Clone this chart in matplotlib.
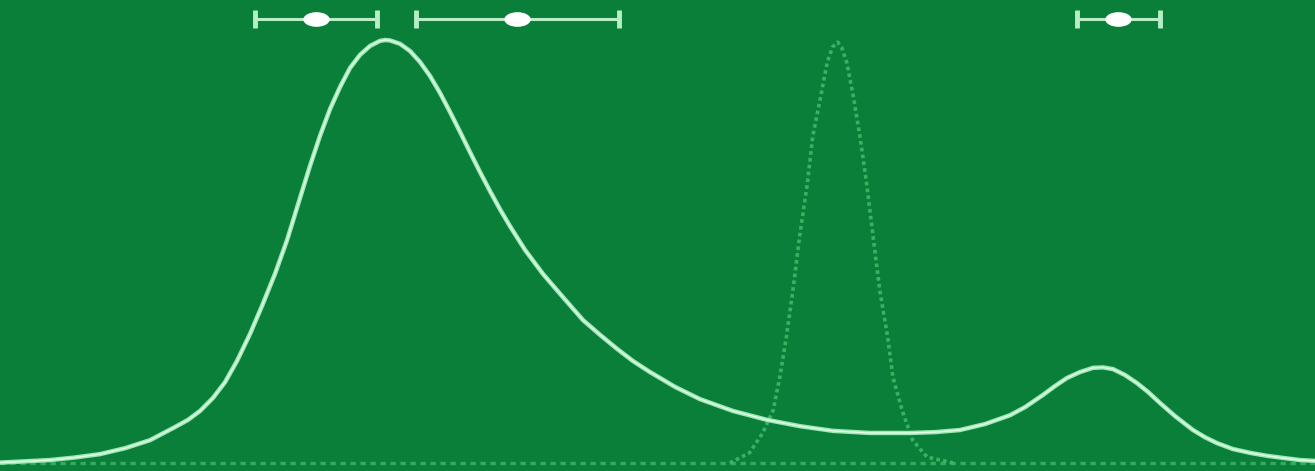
import numpy as np
import matplotlib
matplotlib.use("Agg")
import matplotlib.pyplot as plt
from matplotlib.path import Path
from matplotlib.transforms import Affine2D

# main density curve (bimodal)
dens_x = [0.000, 0.190, 0.380, 0.570, 0.760, 0.951, 1.141, 1.331, 1.430, 1.521,
          1.620, 1.711, 1.802, 1.901, 1.992, 2.091, 2.183, 2.281, 2.357, 2.433,
          2.510, 2.586, 2.662, 2.738, 2.814, 2.890, 2.928, 2.966, 3.042, 3.118,
          3.194, 3.270, 3.346, 3.422, 3.498, 3.574, 3.650, 3.726, 3.802, 3.878,
          3.992, 4.129, 4.259, 4.433, 4.563, 4.692, 4.814, 4.943, 5.133, 5.323,
          5.574, 5.833, 6.084, 6.335, 6.616, 6.920, 7.110, 7.300, 7.490, 7.681,
          7.795, 7.932, 8.023, 8.114, 8.213, 8.312, 8.388, 8.464, 8.555, 8.646,
          8.730, 8.821, 8.935, 9.072, 9.163, 9.255, 9.376, 9.506, 9.635, 9.757,
          9.886, 10.000]
dens_y = [0.001, 0.004, 0.007, 0.013, 0.021, 0.035, 0.054, 0.085, 0.102, 0.123,
          0.154, 0.191, 0.241, 0.305, 0.371, 0.447, 0.527, 0.626, 0.702, 0.773,
          0.837, 0.889, 0.934, 0.965, 0.986, 0.998, 1.000, 0.999, 0.991, 0.974,
          0.948, 0.915, 0.875, 0.830, 0.783, 0.735, 0.688, 0.643, 0.600, 0.560,
          0.504, 0.447, 0.400, 0.338, 0.303, 0.270, 0.241, 0.215, 0.180, 0.151,
          0.123, 0.102, 0.087, 0.076, 0.071, 0.071, 0.073, 0.078, 0.092, 0.113,
          0.132, 0.161, 0.182, 0.201, 0.215, 0.225, 0.226, 0.222, 0.208, 0.189,
          0.168, 0.142, 0.111, 0.078, 0.061, 0.047, 0.033, 0.024, 0.017, 0.012,
          0.007, 0.005]

# narrow dotted reference curve
ref_x = [5.55, 5.70, 5.80, 5.88, 5.93, 5.98, 6.03, 6.08, 6.14, 6.18, 6.24, 6.29, 6.33,
         6.37, 6.40, 6.44, 6.49, 6.54, 6.59, 6.64, 6.69, 6.75, 6.79, 6.86, 6.94, 7.05, 7.25]
ref_y = [0.0, 0.024, 0.071, 0.125, 0.203, 0.298, 0.409, 0.534, 0.662, 0.771, 0.865, 0.946, 0.983,
         0.995, 0.983, 0.946, 0.865, 0.771, 0.662, 0.534, 0.409, 0.298, 0.203, 0.125, 0.054, 0.014, 0.0]

# intervals on top
iv_center = [2.40, 3.93, 8.50]
iv_low = [0.46, 0.77, 0.31]
iv_high = [0.47, 0.78, 0.32]
iv_level = 1.05

bg = "#0a7f3a"

fig = plt.figure(figsize=(13.15, 4.71), dpi=100)
fig.patch.set_facecolor(bg)
ax = fig.add_axes([0, 0, 1, 1])
ax.set_facecolor(bg)

# dotted baseline and reference curve
ax.axhline(0, color="#3aae62", lw=2.4, linestyle=(0, (1.6, 1.4)), alpha=0.9)
ax.plot(ref_x, ref_y, color="#3dba68", lw=2.6, linestyle=(0, (1.0, 0.9)), alpha=0.9)

ax.plot(dens_x, dens_y, color="#9ceab4", lw=3.2, solid_capstyle="round", solid_joinstyle="round")
ax.plot(dens_x, dens_y, color="#e8fcec", lw=1.0, solid_joinstyle="round")

ellipse = Path.unit_circle().transformed(Affine2D().scale(1.8, 1.0))
ax.errorbar(iv_center, [iv_level] * len(iv_center), xerr=[iv_low, iv_high],
            fmt="none", ecolor="#b8eec6", elinewidth=2.2, capsize=6.5, capthick=3.5)
ax.plot(iv_center, [iv_level] * len(iv_center), linestyle="none", marker=ellipse,
        markersize=19, color="white", markeredgewidth=0)

ax.set_xlim(0, 10)
ax.set_ylim(-0.0189, 1.0946)
ax.axis("off")

fig.savefig("out.png", dpi=100, facecolor=bg)
